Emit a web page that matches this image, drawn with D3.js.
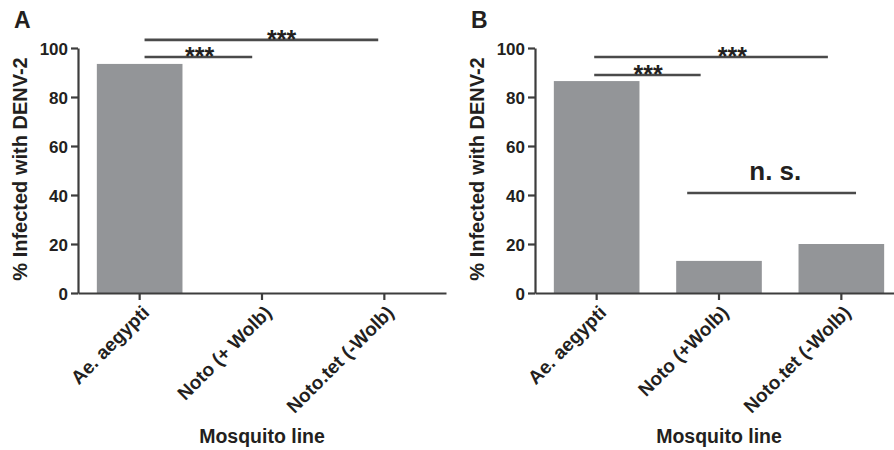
<!DOCTYPE html>
<html>
<head>
<meta charset="utf-8">
<script src="https://cdn.jsdelivr.net/npm/d3@7"></script>
<style>
  body { margin: 0; background: #fff; }
  text { font-family: "Liberation Sans", Arial, sans-serif; font-weight: bold; fill: #231f20; }
</style>
</head>
<body>
<div id="plot"></div>
<script>
// data
var categoriesA = ["Ae. aegypti", "Noto (+ Wolb)", "Noto.tet (-Wolb)"];
var categoriesB = ["Ae. aegypti", "Noto (+Wolb)", "Noto.tet (-Wolb)"];
var valuesA = [93.5, 0, 0];
var valuesB = [86.5, 13.1, 20.0];
var yTicks = [0, 20, 40, 60, 80, 100];
// significance bars: from/to in category index units, y in % units
var sigA = [
  {from: 0.04, to: 0.92, y: 96.3, label: "***", at: 0.49},
  {from: 0.04, to: 1.95, y: 103.3, label: "***", at: 1.16}
];
var sigB = [
  {from: -0.02, to: 0.85, y: 89.0, label: "***", at: 0.42},
  {from: -0.02, to: 1.89, y: 96.3, label: "***", at: 1.11},
  {from: 0.74, to: 2.12, y: 40.8, label: "n. s.", at: 1.46}
];

var svg = d3.select("div#plot")
  .append("svg")
  .attr("width", 894)
  .attr("height", 450);

var axisColor = "#3d3d3d";
var barColor = "#939598";

function drawPanel(opts) {
  var g = svg.append("g");
  var y = d3.scaleLinear().domain([0, 100]).range([293, 48]);
  var x = d3.scaleBand()
    .domain(opts.categories)
    .range([opts.left, opts.left + 368])
    .paddingInner(0.3)
    .paddingOuter(0.154);
  var bw = x.bandwidth();
  var xi = d3.scaleLinear().domain([0, 2])
    .range([x(opts.categories[0]) + bw / 2, x(opts.categories[2]) + bw / 2]);

  // bars
  g.selectAll("rect.bar")
    .data(opts.values)
    .enter().append("rect")
    .attr("class", "bar")
    .attr("x", (d, i) => x(opts.categories[i]))
    .attr("y", d => y(d))
    .attr("width", bw)
    .attr("height", d => y(0) - y(d))
    .attr("fill", barColor);

  // y axis
  var ya = g.append("g")
    .attr("transform", `translate(${opts.left},0)`)
    .call(d3.axisLeft(y).tickValues(yTicks).tickSize(7).tickSizeOuter(0).tickPadding(3));
  // x axis
  var xa = g.append("g")
    .attr("transform", `translate(0,${y(0)})`)
    .call(d3.axisBottom(x).tickSize(7).tickSizeOuter(0));

  [ya, xa].forEach(function(a) {
    a.attr("font-size", null);
    a.select(".domain").attr("stroke", axisColor).attr("stroke-width", 2.2);
    a.selectAll(".tick line").attr("stroke", axisColor).attr("stroke-width", 2.2);
    a.selectAll("text").attr("fill", "#231f20")
      .style("font-family", "Liberation Sans, Arial, sans-serif")
      .style("font-weight", "bold");
  });
  ya.selectAll("text").style("font-size", "17px").attr("dy", "0.36em");
  xa.selectAll("text")
    .style("font-size", "19px")
    .attr("text-anchor", "end")
    .attr("dy", "0.35em")
    .attr("transform", "translate(6,16) rotate(-45)")
    .attr("x", 0).attr("y", 0);

  // significance bars
  opts.sig.forEach(function(s) {
    g.append("line")
      .attr("x1", xi(s.from)).attr("x2", xi(s.to))
      .attr("y1", y(s.y)).attr("y2", y(s.y))
      .attr("stroke", "#4a4a4a")
      .attr("stroke-width", 2.6);
    var big = s.label !== "***";
    g.append("text")
      .attr("x", xi(s.at))
      .attr("y", y(s.y) - (big ? 13 : -8))
      .attr("text-anchor", "middle")
      .style("font-size", big ? "26px" : "25px")
      .text(s.label);
  });

  // panel letter
  svg.append("text")
    .attr("x", opts.left - 64)
    .attr("y", 28)
    .style("font-size", "23px")
    .text(opts.letter);

  // axis titles
  svg.append("text")
    .attr("transform", `translate(${opts.left - 51},169) rotate(-90)`)
    .attr("text-anchor", "middle")
    .style("font-size", "20px")
    .text("% Infected with DENV-2");
  svg.append("text")
    .attr("x", xi(1))
    .attr("y", 443)
    .attr("text-anchor", "middle")
    .style("font-size", "19.5px")
    .text("Mosquito line");
}

drawPanel({letter: "A", left: 78, categories: categoriesA, values: valuesA, sig: sigA});
drawPanel({letter: "B", left: 535, categories: categoriesB, values: valuesB, sig: sigB});
</script>
</body>
</html>
